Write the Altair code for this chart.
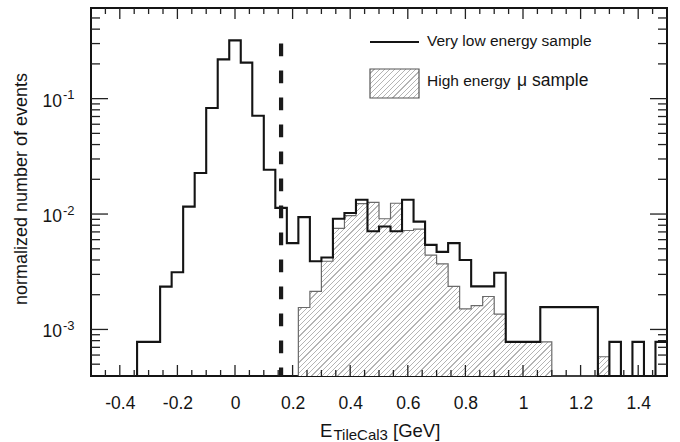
import altair as alt
import numpy as np
import pandas as pd

FONT = "Liberation Sans"
INK = "#141414"

# ---- binning and axis ranges -------------------------------------------
X_MIN, X_MAX = -0.5, 1.5
BIN_WIDTH = 0.04
Y_MIN, Y_MAX = 3.95e-4, 0.61
W, H = 576, 368

# normalized entries per 0.04 GeV bin, from -0.5 to 1.5 GeV (0 = empty bin)
low_energy = [0, 0, 0, 0, 7.8e-4, 7.8e-4, 2.35e-3, 3.13e-3, 0.0116, 0.0227,
              0.083, 0.219, 0.32, 0.205, 0.071, 0.0242, 0.0113, 0.0056, 0.0094, 0.0039,
              0.0042, 0.0091, 0.0102, 0.0133, 0.0071, 0.0078, 0.0071, 0.0133, 0.0086, 0.0054,
              0.0047, 0.0056, 0.0040, 0.00236, 0.00236, 0.0031, 7.8e-4, 7.8e-4, 7.8e-4, 0.00156,
              0.00156, 0.00156, 0.00156, 0.00156, 0, 7.8e-4, 0, 7.8e-4, 0, 7.8e-4]
high_energy_mu = [0, 0, 0, 0, 0, 0, 0, 0, 0, 0,
                  0, 0, 0, 0, 0, 0, 0, 0, 0.00155, 0.00214,
                  0.0039, 0.0075, 0.0097, 0.0123, 0.0126, 0.0091, 0.0124, 0.0072, 0.0074, 0.0044,
                  0.0037, 0.00236, 0.00151, 0.00161, 0.00193, 0.00136, 7.8e-4, 7.8e-4, 7.8e-4, 7.8e-4,
                  0, 0, 0, 0, 5.8e-4, 0, 0, 0, 0, 0]

cut_value = [0.16]
cut_top = [0.30]

x_major = [-0.4, -0.2, 0, 0.2, 0.4, 0.6, 0.8, 1, 1.2, 1.4]
x_minor = [-0.45, -0.35, -0.3, -0.25, -0.15, -0.1, -0.05, 0.05, 0.1, 0.15,
           0.25, 0.3, 0.35, 0.45, 0.5, 0.55, 0.65, 0.7, 0.75, 0.85, 0.9, 0.95,
           1.05, 1.1, 1.15, 1.25, 1.3, 1.35, 1.45]
y_major = [1e-3, 1e-2, 1e-1]
y_exponent = ["-3", "-2", "-1"]
y_minor = [5e-4, 6e-4, 7e-4, 8e-4, 9e-4,
           2e-3, 3e-3, 4e-3, 5e-3, 6e-3, 7e-3, 8e-3, 9e-3,
           2e-2, 3e-2, 4e-2, 5e-2, 6e-2, 7e-2, 8e-2, 9e-2,
           0.2, 0.3, 0.4, 0.5]


def step_table(values, first, last, close=False):
    """Edges and heights for a step-after line over bins first..last."""
    edges = [round(X_MIN + BIN_WIDTH * i, 4) for i in range(first, last + 2)]
    vals = [v if v > 0 else Y_MIN for v in values[first:last + 1]]
    vals = vals + [vals[-1]]
    if close:
        edges = [edges[0]] + edges + [edges[-1]]
        vals = [Y_MIN] + vals + [Y_MIN]
    return pd.DataFrame({"e": edges, "v": vals, "base": Y_MIN, "o": range(len(edges))})


nz = [i for i, v in enumerate(high_energy_mu) if v > 0]
low_df = step_table(low_energy, 0, len(low_energy) - 1)
high_df = step_table(high_energy_mu, nz[0], nz[-1])
high_outline = step_table(high_energy_mu, nz[0], nz[-1], close=True)

xscale = alt.Scale(domain=[X_MIN, X_MAX], nice=False, zero=False)
yscale = alt.Scale(type="log", domain=[Y_MIN, Y_MAX], nice=False, clamp=True)
xaxis = alt.Axis(values=x_major, labelExpr="toString(datum.value)", ticks=False, domain=False,
                 grid=False, labelFont=FONT, labelFontSize=17.5, labelColor=INK,
                 labelPadding=18, labelFlush=False, labelOverlap=False, title=None)


def px_x(v):
    return (v - X_MIN) / (X_MAX - X_MIN) * W


def px_y(v):
    return H * (np.log10(Y_MAX) - np.log10(v)) / (np.log10(Y_MAX) - np.log10(Y_MIN))


def hatch(w, h, period=5.2, line=1.2, bg="#ffffff", fg="#b4b4b4"):
    """Linear gradient with hard stops giving 45 degree '/' hatching on a w x h box."""
    span = w + h
    s = span / (w * w + h * h)
    stops = []
    for i in range(int(np.ceil(span / period))):
        a = i * period / span
        b = min((i * period + period - line) / span, 1)
        c = min((i + 1) * period / span, 1)
        stops += [(min(a, 1), bg), (b, bg), (b, fg), (c, fg)]
    return alt.LinearGradient(
        gradient="linear", x1=0, y1=0, x2=s * w, y2=s * h,
        stops=[alt.GradientStop(offset=round(o, 5), color=col) for o, col in stops])


e0 = X_MIN + BIN_WIDTH * nz[0]
e1 = X_MIN + BIN_WIDTH * (nz[-1] + 1)
area_w = px_x(e1) - px_x(e0)
area_h = H - px_y(max(high_energy_mu))

X = lambda f: alt.X(f, type="quantitative", scale=xscale, axis=xaxis)
Y = lambda f: alt.Y(f, type="quantitative", scale=yscale, axis=None)

high_area = alt.Chart(high_df).mark_area(
    interpolate="step-after", color=hatch(area_w, area_h), opacity=1
).encode(x=X("e"), y=Y("v"), y2=alt.Y2("base"))

high_line = alt.Chart(high_outline).mark_line(
    interpolate="step-after", color="#6a6a6a", strokeWidth=1.2
).encode(x=X("e"), y=Y("v"), order="o:Q")

low_line = alt.Chart(low_df).mark_line(
    interpolate="step-after", color=INK, strokeWidth=2.1
).encode(x=X("e"), y=Y("v"), order="o:Q")

cut = alt.Chart(pd.DataFrame({"c": cut_value, "t": cut_top, "b": [Y_MIN]})).mark_rule(
    color="#1a1a1a", strokeWidth=4.2, strokeDash=[12.7, 14.3]
).encode(x=X("c"), y=Y("t"), y2="b")

# inward tick marks on all four sides
tick_style = dict(color="#222222", strokeWidth=1.3)
xmaj = pd.DataFrame({"t": x_major})
xmin_ = pd.DataFrame({"t": x_minor})
ymaj = pd.DataFrame({"t": y_major, "exp": y_exponent})
ymin_ = pd.DataFrame({"t": y_minor})

ticks = [
    alt.Chart(xmaj).mark_rule(**tick_style).encode(x=X("t"), y=alt.value(H), y2=alt.value(H - 11)),
    alt.Chart(xmaj).mark_rule(**tick_style).encode(x=X("t"), y=alt.value(0), y2=alt.value(11)),
    alt.Chart(xmin_).mark_rule(**tick_style).encode(x=X("t"), y=alt.value(H), y2=alt.value(H - 6)),
    alt.Chart(xmin_).mark_rule(**tick_style).encode(x=X("t"), y=alt.value(0), y2=alt.value(6)),
    alt.Chart(ymaj).mark_rule(**tick_style).encode(y=Y("t"), x=alt.value(0), x2=alt.value(17)),
    alt.Chart(ymaj).mark_rule(**tick_style).encode(y=Y("t"), x=alt.value(W), x2=alt.value(W - 17)),
    alt.Chart(ymin_).mark_rule(**tick_style).encode(y=Y("t"), x=alt.value(0), x2=alt.value(9)),
    alt.Chart(ymin_).mark_rule(**tick_style).encode(y=Y("t"), x=alt.value(W), x2=alt.value(W - 9)),
]

# log axis labels written as 10 with a raised exponent
ylab_base = alt.Chart(ymaj).mark_text(
    align="right", baseline="middle", font=FONT, fontSize=17.5, color=INK, dy=3
).encode(y=Y("t"), x=alt.value(-29), text=alt.value("10"))
ylab_exp = alt.Chart(ymaj).mark_text(
    align="left", baseline="middle", font=FONT, fontSize=13, color=INK, dy=-3.5
).encode(y=Y("t"), x=alt.value(-28), text="exp:N")

one = pd.DataFrame({"k": [0]})


def label(text, x, y, size, **kw):
    return alt.Chart(one).mark_text(
        text=text, font=FONT, fontSize=size, color=INK, **kw
    ).encode(x=alt.value(x), y=alt.value(y))


y_title = label("normalized number of events", -69.5, 181, 18, angle=270,
                align="center", baseline="middle")
x_title = [
    label("E", 229, 428.5, 18.5, align="left", baseline="alphabetic"),
    label("TileCal3", 242.5, 431.5, 15, align="left", baseline="alphabetic"),
    label("[GeV]", 302, 428.5, 18.5, align="left", baseline="alphabetic"),
]

legend = [
    alt.Chart(one).mark_rule(color=INK, strokeWidth=2).encode(
        x=alt.value(279), x2=alt.value(328), y=alt.value(34)),
    alt.Chart(one).mark_rect(fill=hatch(49, 29), stroke="#555555", strokeWidth=1.2).encode(
        x=alt.value(279), x2=alt.value(328), y=alt.value(61), y2=alt.value(90)),
    label("Very low energy sample", 336, 38.4, 15.5, align="left", baseline="alphabetic"),
    label("High energy", 336, 77.7, 15.5, align="left", baseline="alphabetic"),
    label("\u03bc sample", 426, 77.7, 17.5, align="left", baseline="alphabetic"),
]

chart = alt.layer(
    high_area, high_line, low_line, cut, *ticks, ylab_base, ylab_exp,
    y_title, *x_title, *legend
).properties(
    width=W, height=H,
    autosize=alt.AutoSizeParams(type="none"),
    padding={"left": 91, "top": 8, "right": 13, "bottom": 66},
    background="white",
).configure_view(stroke=INK, strokeWidth=2)

chart.save("out.html", embed_options={"renderer": "svg", "actions": False})
